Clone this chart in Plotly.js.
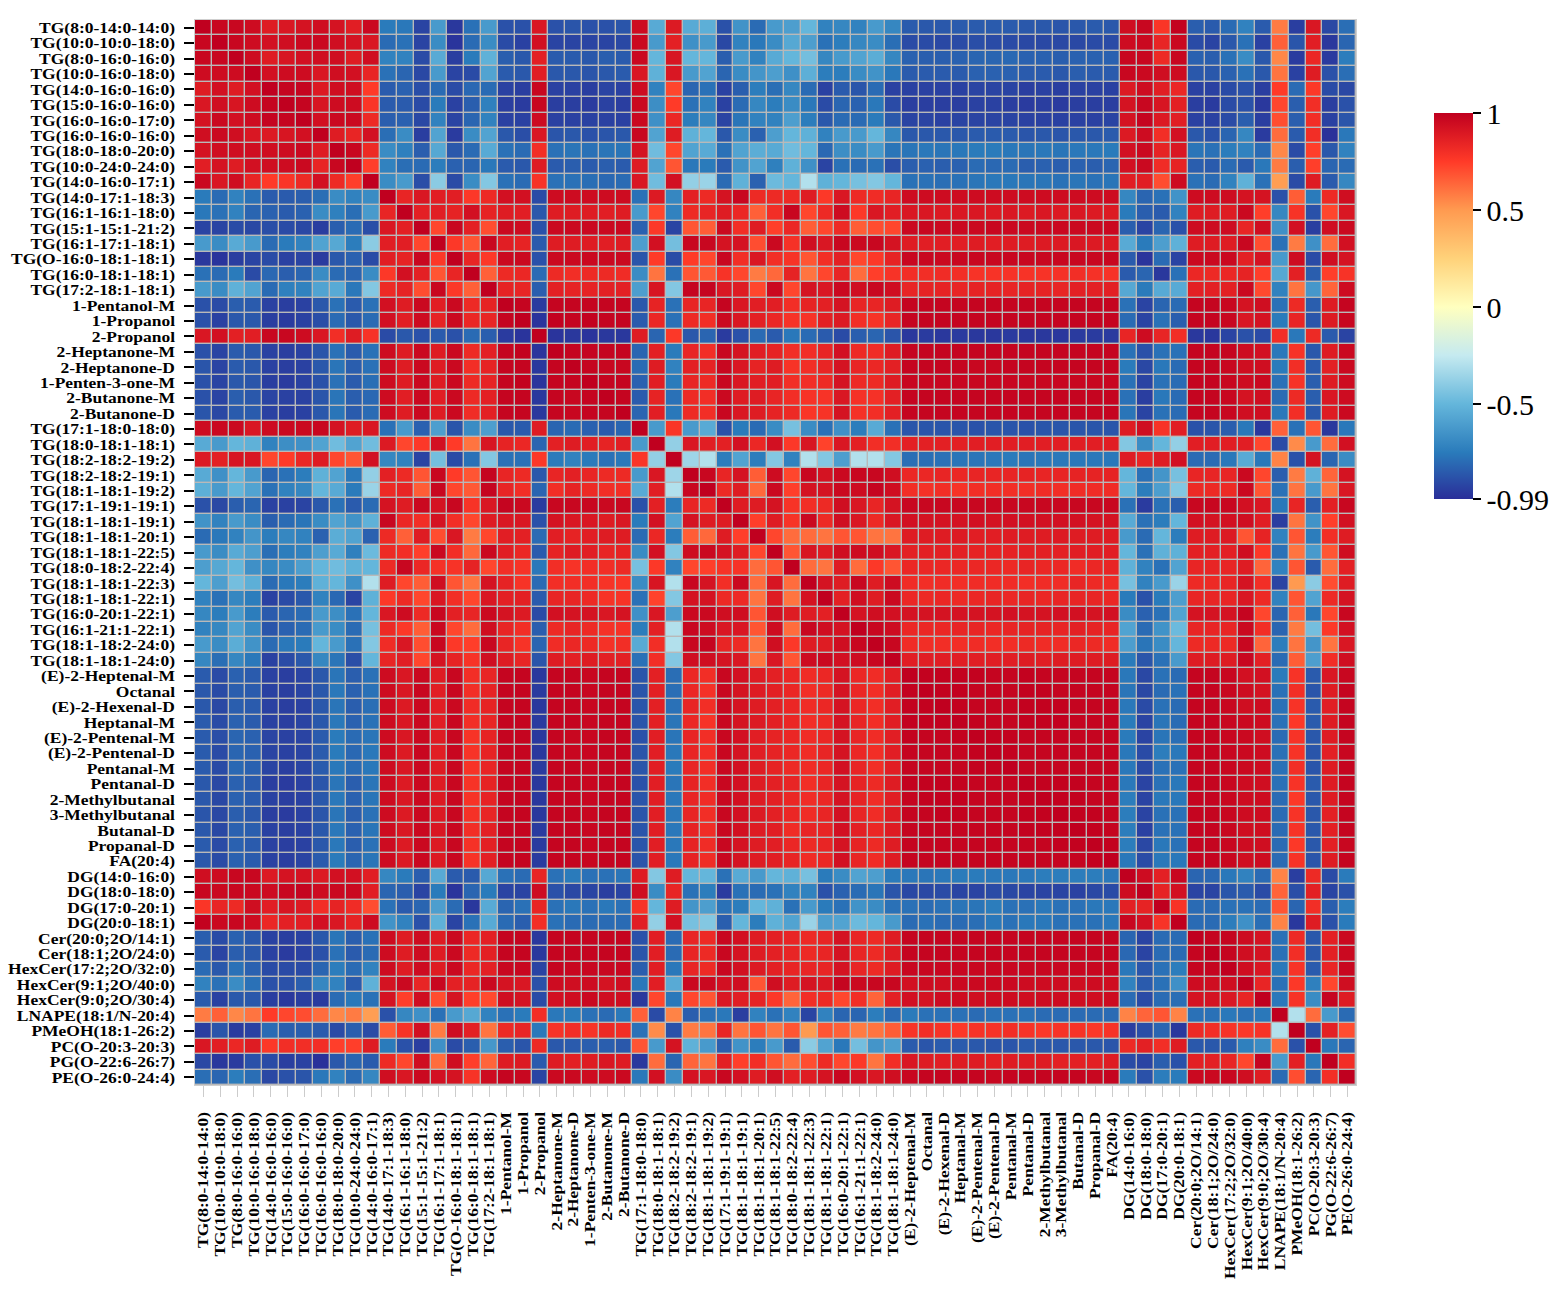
<!DOCTYPE html>
<html>
<head>
<meta charset="utf-8">
<script src="https://cdn.plot.ly/plotly-3.0.1.min.js"></script>
<style>html,body{margin:0;padding:0;background:#fff}</style>
</head>
<body>
<div id="chart" style="width:1553px;height:1295px"></div>
<script>
const labels = ["TG(8:0-14:0-14:0)","TG(10:0-10:0-18:0)","TG(8:0-16:0-16:0)","TG(10:0-16:0-18:0)","TG(14:0-16:0-16:0)","TG(15:0-16:0-16:0)","TG(16:0-16:0-17:0)","TG(16:0-16:0-16:0)","TG(18:0-18:0-20:0)","TG(10:0-24:0-24:0)","TG(14:0-16:0-17:1)","TG(14:0-17:1-18:3)","TG(16:1-16:1-18:0)","TG(15:1-15:1-21:2)","TG(16:1-17:1-18:1)","TG(O-16:0-18:1-18:1)","TG(16:0-18:1-18:1)","TG(17:2-18:1-18:1)","1-Pentanol-M","1-Propanol","2-Propanol","2-Heptanone-M","2-Heptanone-D","1-Penten-3-one-M","2-Butanone-M","2-Butanone-D","TG(17:1-18:0-18:0)","TG(18:0-18:1-18:1)","TG(18:2-18:2-19:2)","TG(18:2-18:2-19:1)","TG(18:1-18:1-19:2)","TG(17:1-19:1-19:1)","TG(18:1-18:1-19:1)","TG(18:1-18:1-20:1)","TG(18:1-18:1-22:5)","TG(18:0-18:2-22:4)","TG(18:1-18:1-22:3)","TG(18:1-18:1-22:1)","TG(16:0-20:1-22:1)","TG(16:1-21:1-22:1)","TG(18:1-18:2-24:0)","TG(18:1-18:1-24:0)","(E)-2-Heptenal-M","Octanal","(E)-2-Hexenal-D","Heptanal-M","(E)-2-Pentenal-M","(E)-2-Pentenal-D","Pentanal-M","Pentanal-D","2-Methylbutanal","3-Methylbutanal","Butanal-D","Propanal-D","FA(20:4)","DG(14:0-16:0)","DG(18:0-18:0)","DG(17:0-20:1)","DG(20:0-18:1)","Cer(20:0;2O/14:1)","Cer(18:1;2O/24:0)","HexCer(17:2;2O/32:0)","HexCer(9:1;2O/40:0)","HexCer(9:0;2O/30:4)","LNAPE(18:1/N-20:4)","PMeOH(18:1-26:2)","PC(O-20:3-20:3)","PG(O-22:6-26:7)","PE(O-26:0-24:4)"];

// Correlation in hundredths; lower triangle, row by row.
const lowerTriangle = [
[100],
[97,100],
[97,97,100],
[95,95,95,100],
[88,93,88,93,100],
[90,94,91,95,98,100],
[92,96,93,95,98,98,100],
[94,96,94,90,89,91,93,100],
[92,94,94,94,94,95,96,88,100],
[87,92,88,93,94,95,96,84,97,100],
[96,90,94,84,75,77,82,93,82,74,100],
[-75,-80,-72,-78,-85,-85,-84,-79,-68,-72,-68,100],
[-76,-78,-72,-82,-83,-85,-83,-68,-73,-79,-62,84,100],
[-92,-92,-90,-91,-89,-90,-91,-94,-84,-80,-89,90,86,100],
[-62,-68,-55,-62,-80,-75,-72,-58,-56,-74,-40,87,87,72,100],
[-96,-97,-94,-92,-90,-93,-92,-95,-86,-83,-90,87,85,97,76,100],
[-78,-80,-75,-90,-81,-84,-82,-68,-80,-82,-68,76,93,86,68,84,100],
[-62,-68,-52,-58,-80,-73,-72,-58,-55,-76,-42,82,85,70,97,76,65,100],
[-88,-90,-84,-85,-93,-94,-93,-86,-78,-85,-78,93,88,96,87,96,82,85,100],
[-88,-93,-86,-86,-94,-95,-93,-89,-80,-86,-80,93,87,95,85,96,83,84,98,100],
[90,93,86,87,97,97,95,90,80,88,78,-90,-86,-88,-85,-88,-80,-84,-95,-97,100],
[-88,-92,-85,-86,-93,-94,-93,-87,-78,-85,-78,95,88,96,88,96,82,86,98,99,-97,100],
[-87,-92,-85,-86,-93,-94,-93,-86,-77,-84,-78,95,88,96,88,96,80,85,98,98,-96,98,100],
[-88,-92,-86,-87,-94,-95,-93,-88,-78,-85,-79,95,88,96,88,96,82,85,98,99,-97,98,98,100],
[-88,-92,-84,-86,-92,-93,-93,-87,-77,-84,-81,95,87,96,87,96,82,86,98,98,-96,98,97,98,100],
[-87,-91,-85,-85,-93,-94,-93,-86,-77,-85,-80,95,88,96,88,96,81,86,98,98,-96,98,97,98,98,100],
[95,96,96,90,95,96,96,97,92,88,90,-78,-62,-83,-60,-87,-68,-60,-86,-85,88,-82,-80,-83,-85,-82,100],
[-55,-62,-50,-52,-72,-67,-66,-58,-47,-58,-47,89,72,76,93,75,60,91,85,83,-82,86,88,87,85,87,-62,100],
[89,86,91,90,72,75,83,88,72,68,93,-70,-72,-92,-46,-90,-78,-42,-78,-78,76,-75,-72,-75,-78,-76,77,-38,100],
[-55,-66,-50,-62,-82,-78,-74,-52,-58,-76,-38,86,82,68,97,75,68,98,84,82,-86,84,86,84,82,82,-62,90,-35,100],
[-53,-62,-50,-58,-78,-72,-70,-50,-55,-75,-36,82,84,66,97,72,67,98,84,80,-82,80,85,82,80,80,-55,87,-30,97,100],
[-88,-91,-84,-82,-93,-93,-92,-86,-78,-85,-80,92,88,96,92,97,78,90,98,96,-95,97,97,97,96,97,-88,86,-74,84,82,100],
[-65,-72,-62,-68,-84,-80,-77,-68,-58,-65,-52,97,83,80,92,80,72,88,90,90,-88,92,90,90,88,90,-75,93,-58,92,88,88,100],
[-80,-76,-72,-64,-74,-70,-72,-83,-54,-58,-83,82,65,88,70,90,58,72,87,86,-80,87,85,87,88,88,-80,83,-74,66,63,88,74,100],
[-62,-68,-55,-60,-79,-74,-72,-60,-55,-73,-48,82,80,74,96,80,63,96,87,83,-85,85,88,87,84,85,-68,93,-42,95,96,92,88,72,100],
[-60,-56,-50,-66,-70,-68,-60,-50,-47,-52,-50,82,97,83,79,78,85,72,80,78,-76,80,78,80,80,82,-45,76,-72,72,74,78,78,62,68,100],
[-50,-60,-46,-53,-80,-76,-74,-52,-50,-66,-30,88,72,66,94,68,60,92,85,78,-80,80,80,80,78,77,-68,91,-30,97,92,80,96,62,91,62,100],
[-72,-78,-70,-74,-93,-90,-86,-72,-81,-92,-52,76,82,72,90,80,72,90,86,86,-85,84,84,82,78,78,-78,73,-42,92,92,82,82,60,88,60,92,100],
[-70,-74,-62,-74,-85,-82,-80,-62,-67,-78,-50,90,95,82,97,86,84,96,92,89,-90,93,92,92,90,92,-66,90,-60,96,96,94,94,68,94,88,88,86,100],
[-72,-70,-58,-68,-87,-83,-80,-62,-68,-80,-45,82,76,66,96,72,62,94,84,80,-84,82,84,82,79,79,-74,86,-30,97,95,90,90,68,95,62,97,94,92,100],
[-62,-68,-54,-65,-80,-76,-75,-50,-62,-78,-42,81,90,70,97,76,74,97,84,78,-82,81,83,82,79,80,-55,80,-30,97,98,84,82,60,94,76,88,88,94,97,100],
[-70,-79,-70,-76,-93,-90,-86,-70,-77,-89,-50,84,87,72,92,85,78,94,88,84,-87,88,86,88,86,86,-78,80,-42,94,94,92,90,60,90,68,95,96,93,95,97,100],
[-85,-90,-83,-85,-93,-94,-92,-86,-77,-84,-78,95,90,96,88,97,80,84,98,98,-96,98,98,97,98,98,-87,86,-79,83,80,97,93,88,86,83,81,83,92,83,81,87,100],
[-86,-90,-84,-85,-93,-94,-92,-86,-76,-83,-78,95,90,97,87,97,80,85,98,98,-95,98,98,97,98,98,-87,86,-79,83,79,97,92,88,86,83,80,82,92,83,80,87,99,100],
[-86,-91,-84,-85,-93,-94,-93,-86,-77,-84,-79,95,89,96,87,96,81,85,98,98,-96,98,98,97,98,98,-87,86,-78,84,80,97,92,88,86,83,81,83,92,83,80,87,99,99,100],
[-85,-90,-83,-85,-93,-94,-92,-86,-76,-83,-78,95,90,96,87,97,80,84,98,98,-95,98,98,97,98,98,-87,86,-77,83,78,97,92,89,86,83,80,82,92,84,80,87,99,99,99,100],
[-85,-89,-82,-83,-92,-93,-92,-85,-75,-80,-77,95,90,96,88,97,78,85,98,98,-96,98,97,97,98,98,-88,87,-77,84,80,97,93,87,85,83,81,83,92,84,81,87,99,98,98,99,100],
[-85,-90,-82,-83,-92,-93,-92,-85,-75,-81,-76,95,89,97,87,97,78,85,98,98,-96,98,97,97,98,98,-87,87,-76,84,80,97,92,87,85,83,81,84,92,83,80,87,98,98,98,98,99,100],
[-85,-90,-81,-83,-92,-94,-92,-85,-76,-80,-76,95,90,96,88,97,78,84,98,98,-95,98,98,97,98,98,-87,87,-75,84,80,97,93,88,85,82,81,83,93,84,80,87,98,98,98,98,99,99,100],
[-86,-91,-83,-85,-94,-95,-93,-87,-77,-84,-77,95,89,96,88,97,78,85,98,98,-96,98,98,97,98,98,-88,87,-77,85,80,97,93,88,86,84,80,84,92,85,82,88,99,99,99,99,98,98,98,100],
[-86,-91,-83,-85,-93,-94,-93,-86,-76,-83,-77,95,90,96,89,97,78,85,98,98,-96,98,98,97,98,98,-87,87,-76,84,81,97,93,88,86,83,81,83,92,85,81,87,98,99,99,99,98,98,98,99,100],
[-87,-91,-84,-86,-94,-95,-93,-87,-77,-84,-78,95,89,96,89,97,79,84,98,98,-96,98,98,97,98,98,-87,87,-76,84,80,97,93,89,86,83,81,84,93,84,81,88,98,98,99,99,98,98,98,99,99,100],
[-86,-91,-83,-84,-93,-94,-93,-86,-76,-83,-77,95,90,96,90,97,80,86,98,98,-95,98,98,97,98,98,-87,87,-76,85,81,97,93,88,87,81,84,84,93,86,83,88,98,98,98,98,98,98,98,99,99,99,100],
[-85,-90,-83,-85,-93,-94,-93,-86,-76,-84,-78,95,89,96,89,97,79,86,98,98,-95,98,98,97,98,98,-87,87,-76,85,81,97,92,88,87,83,82,84,92,85,82,88,98,98,98,98,98,98,98,98,98,99,99,100],
[-86,-90,-83,-85,-93,-94,-92,-85,-75,-82,-77,95,89,96,89,97,78,86,98,98,-95,98,98,97,98,98,-87,87,-76,85,81,97,92,88,87,84,81,83,93,84,81,88,98,98,98,98,98,98,98,98,98,98,98,99,100],
[94,95,97,97,89,92,92,89,93,93,87,-70,-75,-84,-55,-85,-85,-56,-78,-80,84,-78,-75,-78,-78,-77,88,-42,88,-50,-50,-78,-55,-62,-50,-52,-45,-75,-68,-58,-60,-75,-76,-77,-76,-75,-75,-76,-76,-76,-74,-74,-74,-74,-76,100],
[97,96,97,96,95,97,98,95,96,96,87,-82,-84,-92,-75,-97,-82,-75,-92,-92,95,-88,-91,-92,-94,-92,94,-68,84,-78,-74,-95,-78,-80,-78,-72,-72,-88,-83,-80,-77,-87,-91,-91,-90,-92,-92,-90,-91,-92,-92,-92,-93,-91,-90,95,100],
[77,84,82,94,87,91,89,80,85,81,70,-78,-85,-82,-60,-80,-96,-55,-82,-78,84,-78,-76,-78,-76,-78,78,-50,88,-64,-60,-78,-74,-50,-52,-78,-62,-75,-78,-65,-68,-78,-78,-80,-78,-77,-77,-74,-78,-78,-76,-78,-78,-76,-76,86,85,100],
[99,96,97,95,83,86,87,93,90,85,95,-65,-72,-88,-52,-92,-78,-55,-80,-84,80,-78,-80,-80,-80,-80,87,-38,93,-45,-42,-84,-50,-74,-52,-58,-36,-60,-58,-48,-50,-62,-80,-78,-80,-80,-79,-76,-78,-76,-76,-78,-78,-78,-76,97,93,78,100],
[-84,-90,-83,-86,-93,-94,-93,-86,-77,-84,-78,95,88,95,88,96,83,86,98,98,-96,98,98,98,98,98,-88,87,-80,84,82,97,93,88,86,84,82,84,92,84,82,88,98,98,98,98,98,98,98,98,98,98,98,98,98,-82,-92,-80,-80,100],
[-85,-92,-84,-86,-93,-95,-93,-88,-78,-85,-80,95,88,95,88,96,82,86,98,98,-96,98,98,98,98,98,-87,87,-80,84,82,97,92,88,86,84,82,84,92,84,82,88,98,98,98,98,98,98,98,98,98,98,98,98,98,-81,-92,-80,-80,98,100],
[-80,-86,-78,-83,-90,-90,-90,-82,-74,-80,-72,95,88,95,88,96,83,86,97,97,-92,98,97,97,97,97,-84,87,-76,84,82,97,93,89,86,84,84,84,92,84,82,88,97,97,97,97,97,97,97,97,97,97,97,97,97,-76,-87,-78,-74,98,98,100],
[-72,-78,-68,-78,-88,-88,-84,-70,-72,-85,-52,92,96,84,97,86,85,96,92,90,-88,95,94,95,92,94,-76,87,-55,96,96,93,94,68,94,88,92,90,98,96,97,97,93,95,94,96,96,96,96,95,95,95,94,95,94,-72,-85,-78,-66,95,94,94,100],
[-85,-93,-86,-86,-94,-96,-94,-95,-80,-76,-78,92,74,94,70,92,74,71,94,92,-90,93,94,96,94,94,-96,72,-76,72,68,90,87,85,76,64,80,82,72,80,64,86,93,92,95,95,94,95,95,94,95,95,94,94,95,-80,-90,-80,-79,92,92,90,84,100],
[58,65,55,60,75,72,70,62,55,58,48,-88,-70,-66,-78,-62,-56,-72,-78,-75,80,-76,-75,-78,-80,-76,65,-90,56,-84,-78,-76,-94,-72,-78,-72,-92,-72,-82,-82,-74,-80,-75,-78,-78,-78,-80,-78,-78,-78,-80,-80,-80,-80,-80,56,64,68,56,-78,-78,-76,-78,-76,100],
[-94,-87,-95,-93,-80,-84,-84,-85,-90,-84,-90,66,78,93,58,95,86,60,82,84,-76,78,80,78,82,80,-78,54,-88,58,60,84,60,68,60,68,50,68,65,58,60,66,78,80,78,76,78,78,80,78,76,78,78,76,78,-94,-89,-82,-96,82,80,78,76,78,-30,100],
[90,87,83,88,76,80,80,80,74,74,88,-75,-88,-94,-66,-90,-84,-63,-84,-87,82,-86,-85,-84,-84,-86,68,-62,92,-52,-62,-84,-65,-74,-62,-85,-40,-58,-76,-46,-64,-60,-85,-87,-85,-85,-86,-87,-87,-85,-86,-86,-86,-86,-87,82,86,80,88,-86,-86,-85,-73,-68,62,-88,100],
[-91,-96,-95,-88,-90,-94,-93,-98,-86,-82,-85,82,72,94,62,94,74,64,88,89,-85,88,86,88,90,88,-96,62,-82,64,60,86,74,80,68,62,70,82,72,76,60,80,90,88,87,88,88,86,88,88,88,86,86,86,88,-90,-92,-84,-88,86,86,84,72,98,-62,86,-76,100],
[-79,-82,-74,-79,-91,-88,-87,-76,-72,-80,-70,94,90,96,93,92,78,95,98,97,-92,96,96,95,95,96,-76,93,-68,92,90,97,93,88,94,86,88,92,97,93,90,94,97,98,98,98,98,97,98,98,98,98,98,97,98,-75,-88,-74,-75,96,96,97,94,88,-80,70,-82,80,100]
];

const colorStops = [[-0.99,"#2A2E99"],[-0.75,"#2A7BBB"],[-0.5,"#64B6DB"],[-0.25,"#C5EAF0"],[0,"#FFFFBF"],[0.25,"#FFD27A"],[0.5,"#FF9A50"],[0.75,"#FF3A28"],[1,"#C0001F"]];
const barTicks = [-0.99,-0.5,0,0.5,1];
const barTickText = ["-0.99","-0.5","0","0.5","1"];

lowerTriangle.forEach((r,i)=>{ if(r.length!==i+1) throw new Error("row "+i+" has length "+r.length); });
const z = labels.map((_,i)=>labels.map((_,j)=> (i>=j ? lowerTriangle[i][j] : lowerTriangle[j][i]) / 100));

const serif = '"Liberation Serif","Times New Roman",serif';
Plotly.newPlot("chart",[{
  type:"heatmap", x:labels, y:labels, z:z, xgap:1.4, ygap:1.4,
  zmin:-0.99, zmax:1,
  colorscale:colorStops.map(s=>[(s[0]+0.99)/1.99,s[1]]),
  colorbar:{
    thickness:39, thicknessmode:"pixels", len:386, lenmode:"pixels",
    xref:"container", yref:"container",
    x:0.9233, xanchor:"left", y:0.7126, yanchor:"middle", xpad:0, ypad:0,
    outlinewidth:0, tickmode:"array", tickvals:barTicks, ticktext:barTickText,
    ticks:"outside", ticklen:8, tickwidth:2, tickcolor:"#000",
    tickfont:{family:serif,size:30,color:"#000"}
  }
}],{
  width:1553, height:1295,
  margin:{l:195,r:197,t:20,b:210,pad:0,autoexpand:false},
  paper_bgcolor:"#fff", plot_bgcolor:"#b9b9b9", showlegend:false,
  xaxis:{type:"category",tickmode:"array",tickvals:labels,ticktext:labels,tickangle:-90,side:"bottom",automargin:false,
    ticks:"outside",ticklen:11,tickwidth:1,tickcolor:"#cccccc",ticklabelstandoff:9,
    tickfont:{family:serif,size:15,color:"#000",weight:"bold"},showgrid:false,zeroline:false,showline:true,linecolor:"#cfcfcf",linewidth:1,mirror:true},
  yaxis:{type:"category",autorange:"reversed",tickmode:"array",tickvals:labels,ticktext:labels,automargin:false,
    ticks:"outside",ticklen:10,tickwidth:2,tickcolor:"#000",ticklabelstandoff:6,
    tickfont:{family:serif,size:15,color:"#000",weight:"bold"},showgrid:false,zeroline:false,showline:true,linecolor:"#cfcfcf",linewidth:1,mirror:true}
},{displayModeBar:false,responsive:false}).then(()=>{
  // The reference's axis labels are horizontally stretched type; widen them the same way.
  document.querySelectorAll(".ytick text, .xtick text").forEach(t=>{
    t.setAttribute("textLength", (t.getComputedTextLength()*1.165).toFixed(1));
    t.setAttribute("lengthAdjust","spacingAndGlyphs");
  });
});
</script>
</body>
</html>
